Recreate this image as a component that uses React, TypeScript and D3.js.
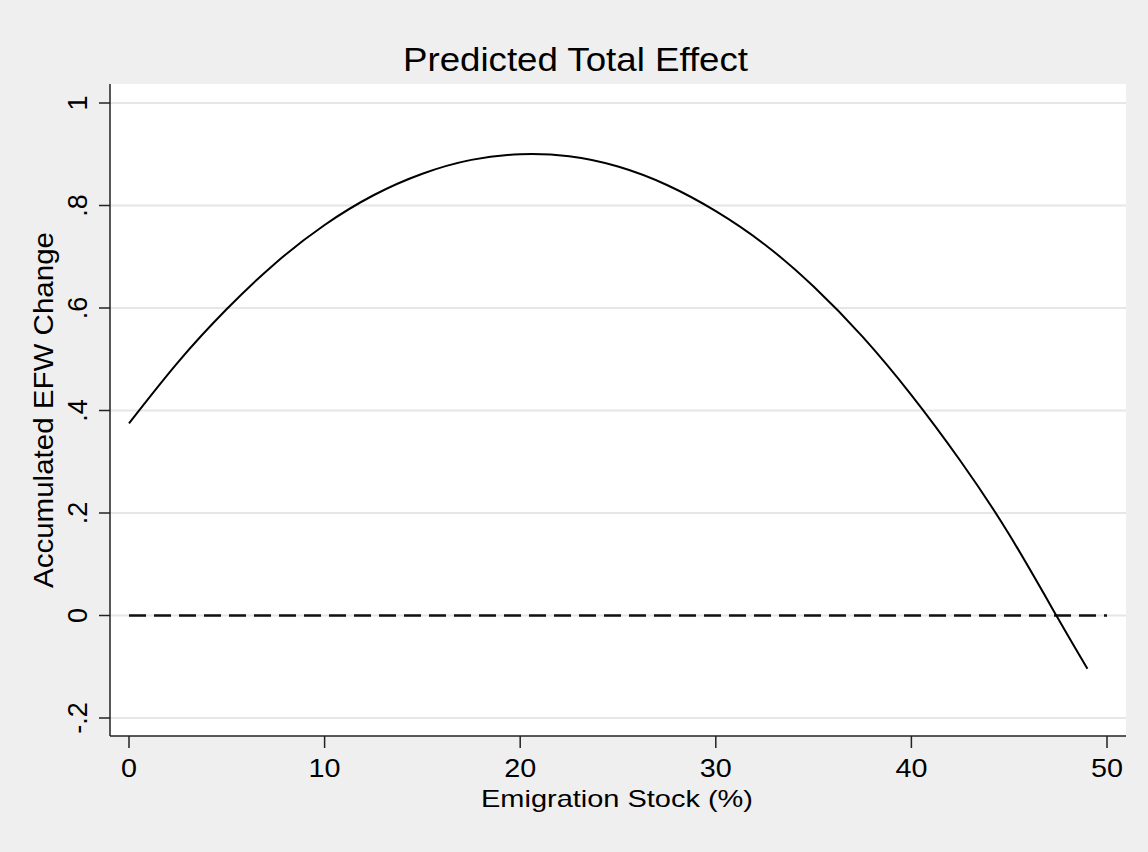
import * as d3 from 'd3';
import { useEffect, useRef } from 'react';

// values
const stockPct = [0, 2.5, 5, 7.5, 10, 12.5, 15, 17.5, 20, 22.5, 25, 27.5, 30, 32.5, 35, 37.5, 40, 42.5, 45, 47.5, 49];
const efwChange = [0.375, 0.494, 0.598, 0.688, 0.762, 0.82, 0.862, 0.889, 0.9, 0.896, 0.876, 0.84, 0.789, 0.724, 0.642, 0.544, 0.43, 0.302, 0.158, -0.006, -0.104];
const xTicks = [0, 10, 20, 30, 40, 50];
const yTicks = [-0.2, 0, 0.2, 0.4, 0.6, 0.8, 1];
const yTickLabels = ['-.2', '0', '.2', '.4', '.6', '.8', '1'];

const W = 1148;
const H = 852;
const plot = { left: 110, top: 84, right: 1126, bottom: 736 };
const font = 'Helvetica, Arial, "Liberation Sans", sans-serif';

export default function App() {
  const ref = useRef<SVGSVGElement>(null);

  useEffect(() => {
    const svg = d3.select(ref.current);
    svg.selectAll('*').remove();

    const x = d3.scaleLinear().domain([0, 50]).range([129, 1107]);
    const y = d3.scaleLinear().domain([-0.2, 1]).range([718, 103]);

    svg.append('rect').attr('width', W).attr('height', H).attr('fill', '#efefef');
    svg
      .append('rect')
      .attr('x', plot.left)
      .attr('y', plot.top)
      .attr('width', plot.right - plot.left)
      .attr('height', plot.bottom - plot.top)
      .attr('fill', '#ffffff');

    // gridlines
    svg
      .selectAll('.grid')
      .data(yTicks)
      .enter()
      .append('line')
      .attr('x1', plot.left)
      .attr('x2', plot.right)
      .attr('y1', (d) => y(d))
      .attr('y2', (d) => y(d))
      .attr('stroke', '#e6e6e6')
      .attr('stroke-width', 2);

    // zero reference line
    svg
      .append('line')
      .attr('x1', x(0))
      .attr('x2', x(50))
      .attr('y1', y(0))
      .attr('y2', y(0))
      .attr('stroke', '#111')
      .attr('stroke-width', 2.5)
      .attr('stroke-dasharray', '17 8');

    const line = d3
      .line<number>()
      .x((_d, i) => x(stockPct[i]))
      .y((d) => y(d))
      .curve(d3.curveNatural);

    svg
      .append('path')
      .attr('d', line(efwChange))
      .attr('fill', 'none')
      .attr('stroke', '#000')
      .attr('stroke-width', 2);

    // axes
    svg
      .append('line')
      .attr('x1', plot.left)
      .attr('x2', plot.left)
      .attr('y1', plot.top)
      .attr('y2', plot.bottom)
      .attr('stroke', '#222')
      .attr('stroke-width', 1.5);
    svg
      .append('line')
      .attr('x1', plot.left)
      .attr('x2', plot.right)
      .attr('y1', plot.bottom)
      .attr('y2', plot.bottom)
      .attr('stroke', '#222')
      .attr('stroke-width', 1.5);

    svg
      .selectAll('.ytick')
      .data(yTicks)
      .enter()
      .append('line')
      .attr('x1', plot.left - 11)
      .attr('x2', plot.left)
      .attr('y1', (d) => y(d))
      .attr('y2', (d) => y(d))
      .attr('stroke', '#222')
      .attr('stroke-width', 1.5);

    svg
      .selectAll('.ylabel')
      .data(yTicks)
      .enter()
      .append('text')
      .attr('transform', (d) => `translate(86.5,${y(d)}) rotate(-90)`)
      .attr('text-anchor', 'middle')
      .attr('font-family', font)
      .attr('font-size', 27)
      .text((_d, i) => yTickLabels[i]);

    svg
      .selectAll('.xtick')
      .data(xTicks)
      .enter()
      .append('line')
      .attr('x1', (d) => x(d))
      .attr('x2', (d) => x(d))
      .attr('y1', plot.bottom)
      .attr('y2', plot.bottom + 12)
      .attr('stroke', '#222')
      .attr('stroke-width', 1.5);

    svg
      .selectAll('.xlabel')
      .data(xTicks)
      .enter()
      .append('text')
      .attr('transform', (d) => `translate(${x(d)},777) scale(1.15,1)`)
      .attr('text-anchor', 'middle')
      .attr('font-family', font)
      .attr('font-size', 25)
      .text((d) => d);

    svg
      .append('text')
      .attr('x', 617)
      .attr('y', 807)
      .attr('text-anchor', 'middle')
      .attr('font-family', font)
      .attr('font-size', 24)
      .attr('textLength', 272)
      .attr('lengthAdjust', 'spacingAndGlyphs')
      .text('Emigration Stock (%)');

    svg
      .append('text')
      .attr('transform', `translate(53,${(plot.top + plot.bottom) / 2}) rotate(-90)`)
      .attr('text-anchor', 'middle')
      .attr('font-family', font)
      .attr('font-size', 28)
      .attr('textLength', 356)
      .attr('lengthAdjust', 'spacingAndGlyphs')
      .text('Accumulated EFW Change');

    svg
      .append('text')
      .attr('x', 575.5)
      .attr('y', 71)
      .attr('text-anchor', 'middle')
      .attr('font-family', font)
      .attr('font-size', 34)
      .attr('textLength', 345)
      .attr('lengthAdjust', 'spacingAndGlyphs')
      .text('Predicted Total Effect');
  }, []);

  return (
    <svg
      ref={ref}
      width={W}
      height={H}
      style={{ position: 'absolute', left: 0, top: 0, display: 'block' }}
    />
  );
}
